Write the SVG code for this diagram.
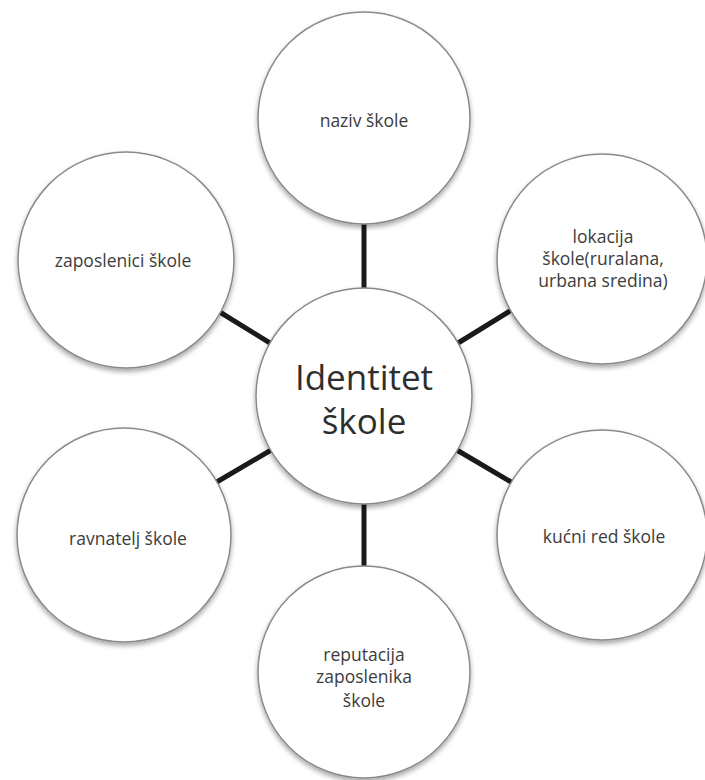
<svg xmlns="http://www.w3.org/2000/svg" width="705" height="780" viewBox="0 0 705 780">
<defs>
<filter id="sh" x="-20%" y="-20%" width="140%" height="140%">
<feDropShadow dx="0" dy="3" stdDeviation="2.5" flood-color="#000" flood-opacity="0.35"/>
</filter>
<style>
.node circle{fill:#fff;stroke:#8a8a8a;stroke-width:1.5;filter:url(#sh)}
.lbl{font-family:"Open Sans","Noto Sans",sans-serif;font-size:17.5px;fill:#3c3c3c;text-anchor:middle}
.big{font-family:"Open Sans","Noto Sans",sans-serif;font-size:35px;fill:#2e2e2e;text-anchor:middle}
.conn line{stroke:#1a1a1a;stroke-width:5;stroke-linecap:butt}
</style>
</defs>
<rect width="705" height="780" fill="#fff"/>
<g id="connectors" class="conn">
<line x1="364" y1="215" x2="364" y2="295"/>
<line x1="364" y1="495" x2="364" y2="575"/>
<line x1="210" y1="306" x2="278" y2="348"/>
<line x1="450" y1="348" x2="518" y2="306"/>
<line x1="210" y1="486" x2="278" y2="446"/>
<line x1="450" y1="446" x2="518" y2="486"/>
</g>
<g id="naziv" class="node">
<circle cx="364" cy="118" r="106"/>
<text class="lbl" x="364" y="127">naziv škole</text>
</g>
<g id="zaposlenici" class="node">
<circle cx="126" cy="260" r="108"/>
<text class="lbl" x="123" y="267">zaposlenici škole</text>
</g>
<g id="lokacija" class="node">
<circle cx="602" cy="259" r="105"/>
<text class="lbl" x="603" y="243">lokacija</text>
<text class="lbl" x="603" y="265">škole(ruralana,</text>
<text class="lbl" x="603" y="287">urbana sredina)</text>
</g>
<g id="ravnatelj" class="node">
<circle cx="124" cy="535" r="107"/>
<text class="lbl" x="128" y="545">ravnatelj škole</text>
</g>
<g id="kucni" class="node">
<circle cx="602" cy="535" r="105"/>
<text class="lbl" x="604" y="543">kućni red škole</text>
</g>
<g id="reputacija" class="node">
<circle cx="364" cy="672" r="106"/>
<text class="lbl" x="364" y="661">reputacija</text>
<text class="lbl" x="364" y="683">zaposlenika</text>
<text class="lbl" x="364" y="707">škole</text>
</g>
<g id="center" class="node">
<circle cx="364" cy="396" r="108"/>
<text class="big" x="364" y="390">Identitet</text>
<text class="big" x="364" y="434">škole</text>
</g>
</svg>
